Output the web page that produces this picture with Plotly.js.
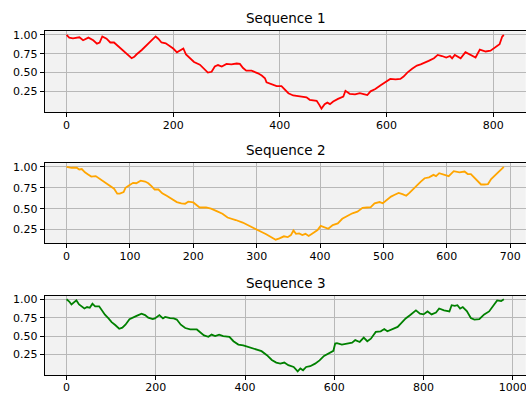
<!DOCTYPE html>
<html>
<head>
<meta charset="utf-8">
<script src="https://cdn.plot.ly/plotly-3.0.1.min.js"></script>
<style>html,body{margin:0;padding:0;background:#fff;}#chart{width:526px;height:394px;}</style>
</head>
<body>
<div id="chart"></div>
<script>
// Sequence 1 (red)
var seq1X = [0,5,12,19,24,31,41,50,57,62,67,75,82,89,97,106,116,122,127,131,141,150,159,167,172,178,186,194,200,207,212,219,224,231,239,250,259,265,272,278,284,291,300,309,319,325,331,337,347,353,359,366,372,375,384,394,403,409,416,425,437,450,456,469,474,478,484,489,494,500,509,519,523,531,541,550,559,564,570,579,589,598,607,617,626,632,639,648,657,664,673,679,689,696,704,712,719,723,728,739,748,757,767,775,786,795,804,812,817,820];
var seq1Y = [1.0,0.965,0.956,0.965,0.97,0.93,0.965,0.93,0.885,0.90,0.98,0.95,0.90,0.90,0.85,0.80,0.735,0.69,0.71,0.74,0.80,0.86,0.93,0.98,0.95,0.90,0.89,0.85,0.82,0.77,0.79,0.82,0.74,0.69,0.64,0.605,0.535,0.50,0.51,0.58,0.60,0.58,0.615,0.61,0.62,0.615,0.56,0.525,0.525,0.51,0.49,0.46,0.425,0.37,0.345,0.32,0.32,0.28,0.225,0.195,0.18,0.17,0.137,0.124,0.07,0.02,0.08,0.10,0.08,0.115,0.15,0.18,0.257,0.217,0.21,0.225,0.21,0.20,0.25,0.28,0.33,0.37,0.415,0.41,0.415,0.447,0.50,0.55,0.593,0.61,0.633,0.655,0.69,0.735,0.72,0.70,0.72,0.69,0.735,0.69,0.77,0.735,0.70,0.805,0.78,0.79,0.83,0.876,0.98,1.0];

// Sequence 2 (orange)
var seq2X = [0,8,16,20,24,29,34,39,46,51,58,63,69,75,80,84,90,93,99,105,110,117,124,129,134,139,145,151,158,166,174,181,187,192,200,205,210,220,228,236,246,254,259,267,278,288,299,307,315,322,330,336,343,349,354,358,362,367,372,377,382,388,396,401,407,413,420,428,435,444,451,459,467,474,480,486,494,499,504,512,517,524,530,536,541,546,554,559,565,572,579,583,588,596,603,611,620,628,633,638,643,649,654,659,665,670,678,683,690];
var seq2Y = [1.0,0.99,0.99,0.97,0.975,0.935,0.91,0.885,0.89,0.865,0.835,0.80,0.77,0.74,0.68,0.68,0.70,0.75,0.78,0.81,0.805,0.835,0.825,0.805,0.77,0.73,0.73,0.685,0.655,0.615,0.58,0.565,0.56,0.585,0.575,0.545,0.515,0.515,0.50,0.475,0.44,0.395,0.38,0.365,0.335,0.30,0.26,0.225,0.195,0.165,0.13,0.145,0.17,0.16,0.185,0.24,0.20,0.205,0.185,0.20,0.175,0.205,0.245,0.295,0.275,0.26,0.305,0.325,0.38,0.415,0.445,0.465,0.51,0.515,0.52,0.565,0.58,0.565,0.60,0.645,0.665,0.69,0.675,0.655,0.69,0.73,0.785,0.825,0.865,0.875,0.905,0.89,0.925,0.905,0.89,0.95,0.935,0.945,0.915,0.915,0.875,0.835,0.79,0.79,0.795,0.855,0.91,0.945,1.0];

// Sequence 3 (green)
var seq3X = [0,6,11,16,22,28,34,40,46,52,58,64,73,79,86,94,101,109,118,125,132,141,150,157,168,176,183,193,198,208,216,221,232,240,247,256,266,277,292,300,308,318,325,333,342,351,365,374,385,396,407,419,430,437,449,460,470,479,488,497,509,518,524,530,537,546,557,567,577,587,598,602,606,617,628,640,647,657,666,674,682,693,704,712,719,730,742,749,760,771,783,792,800,809,818,828,835,846,858,863,870,876,882,888,897,906,914,925,936,947,955,965,974,980];
var seq3Y = [1.0,0.97,0.93,0.955,0.985,0.93,0.905,0.875,0.895,0.885,0.94,0.905,0.905,0.85,0.79,0.74,0.69,0.65,0.60,0.615,0.655,0.73,0.75,0.775,0.805,0.785,0.75,0.73,0.74,0.785,0.74,0.76,0.745,0.74,0.725,0.655,0.61,0.59,0.59,0.55,0.51,0.49,0.52,0.50,0.52,0.50,0.49,0.43,0.385,0.375,0.355,0.33,0.31,0.295,0.24,0.175,0.14,0.125,0.14,0.105,0.08,0.02,0.06,0.036,0.08,0.09,0.125,0.17,0.23,0.26,0.30,0.40,0.405,0.385,0.40,0.41,0.445,0.42,0.48,0.43,0.465,0.557,0.565,0.595,0.565,0.595,0.625,0.67,0.74,0.79,0.85,0.805,0.795,0.835,0.795,0.82,0.875,0.85,0.835,0.92,0.91,0.92,0.875,0.895,0.84,0.745,0.725,0.73,0.795,0.835,0.905,0.985,0.975,1.0];

var titles = ["Sequence 1", "Sequence 2", "Sequence 3"];
var colors = ["red", "orange", "green"];
var xDticks = [200, 100, 200];
var yTickVals = [0.25, 0.5, 0.75, 1.0];
var yTickText = ["0.25", "0.50", "0.75", "1.00"];

var seriesX = [seq1X, seq2X, seq3X];
var seriesY = [seq1Y, seq2Y, seq3Y];

function pad(arr) {
  var mn = Math.min.apply(null, arr), mx = Math.max.apply(null, arr);
  var d = mx - mn;
  return [mn - 0.05 * d, mx + 0.05 * d];
}

var W = 526, H = 394;
var xDom = [44.7 / W, 525.7 / W];
var yDoms = [
  [1 - 112.3 / H, 1 - 31.3 / H],
  [1 - 243.3 / H, 1 - 163.3 / H],
  [1 - 375.0 / H, 1 - 295.7 / H]
];

var font = {family: "DejaVu Sans, sans-serif", size: 11, color: "#000"};
var data = [];
var layout = {
  width: W, height: H,
  margin: {l: 0, r: 0, t: 0, b: 0, pad: 0},
  paper_bgcolor: "#ffffff",
  plot_bgcolor: "#f2f2f2",
  showlegend: false,
  font: font,
  annotations: []
};

for (var k = 0; k < 3; k++) {
  var sfx = k === 0 ? "" : String(k + 1);
  data.push({
    x: seriesX[k], y: seriesY[k],
    type: "scatter", mode: "lines",
    line: {color: colors[k], width: 1.8},
    xaxis: "x" + sfx, yaxis: "y" + sfx,
    hoverinfo: "skip"
  });
  var common = {
    showline: true, mirror: true, linecolor: "#000", linewidth: 1,
    ticks: "outside", ticklen: 4, tickwidth: 1, tickcolor: "#000",
    showgrid: true, gridcolor: "#b8b8b8", gridwidth: 1,
    zeroline: false, tickfont: font, fixedrange: true,
    ticklabeloverflow: "allow"
  };
  layout["xaxis" + sfx] = Object.assign({}, common, {
    domain: xDom, anchor: "y" + sfx,
    range: pad(seriesX[k]), tickmode: "linear", tick0: 0, dtick: xDticks[k],
    ticklabelstandoff: -2
  });
  layout["yaxis" + sfx] = Object.assign({}, common, {
    domain: yDoms[k], anchor: "x" + sfx,
    range: pad(seriesY[k]), tickmode: "array", tickvals: yTickVals, ticktext: yTickText
  });
  layout.annotations.push({
    text: titles[k], showarrow: false,
    xref: "x" + sfx + " domain", yref: "y" + sfx + " domain",
    x: 0.5, y: 1, xanchor: "center", yanchor: "bottom", yshift: 3,
    font: {family: "DejaVu Sans, sans-serif", size: 13.5, color: "#000"}
  });
}

Plotly.newPlot("chart", data, layout, {staticPlot: true, displayModeBar: false});
</script>
</body>
</html>
